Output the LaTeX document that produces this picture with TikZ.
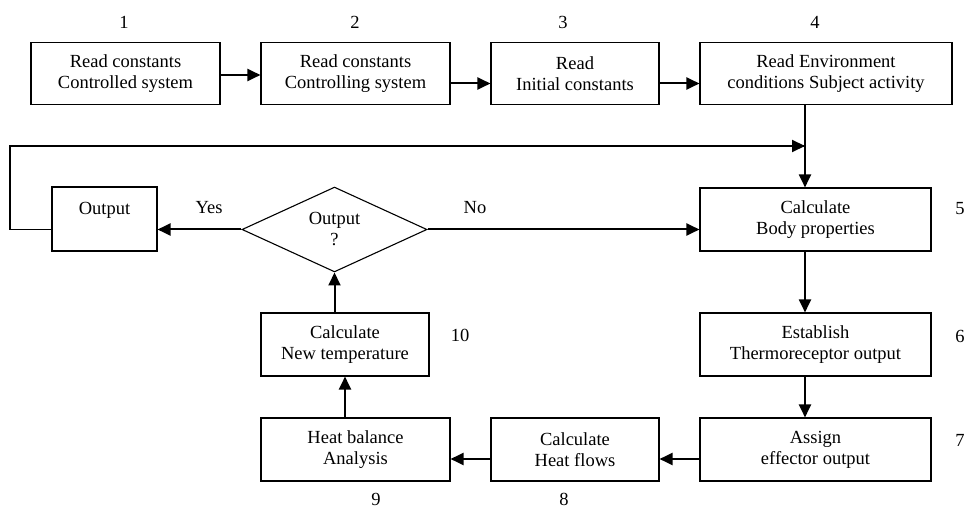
\documentclass[tikz,border=0pt]{standalone}
\usepackage{fontspec}
\setmainfont{Liberation Serif}
\usetikzlibrary{arrows.meta,shapes.geometric}
\begin{document}
\begin{tikzpicture}[x=1pt,y=-1pt,
  box/.style={draw,line width=1.1pt,rectangle,align=center,inner sep=0pt,
    minimum height=62pt,font=\fontsize{18.5}{21}\selectfont},
  lbl/.style={inner sep=0pt,font=\fontsize{18.5}{21}\selectfont},
  arr/.style={line width=2pt,-{Triangle[length=13pt,width=12pt]}},
  ln/.style={line width=1.4pt}]
\useasboundingbox (0,0) rectangle (967,510);
% top row
\node[box,minimum width=189pt] (b1) at (125.5,73.5) {Read constants\\Controlled system};
\node[box,minimum width=189pt] (b2) at (355.5,73.5) {Read constants\\Controlling system};
\node[box,minimum width=168pt] (b3) at (575,73.5) {Read\\Initial constants};
\node[box,minimum width=252pt] (b4) at (826,73.5) {Read Environment\\conditions Subject activity};
% right column
\node[box,minimum width=231pt,minimum height=63pt] (b5) at (815.5,219.5) {Calculate\\Body properties};
\node[box,minimum width=231pt,minimum height=63pt] (b6) at (815.5,344.5) {Establish\\Thermoreceptor output};
\node[box,minimum width=231pt,minimum height=63pt] (b7) at (815.5,449.5) {Assign\\effector output};
% bottom row
\node[box,minimum width=168pt,minimum height=63pt] (b8) at (575,449.5) {Calculate\\Heat flows};
\node[box,minimum width=189pt,minimum height=63pt] (b9) at (355.5,449.5) {Heat balance\\Analysis};
\node[box,minimum width=168pt,minimum height=63pt] (b10) at (345,344.5) {Calculate\\New temperature};
% decision and output
\node[draw,line width=1.1pt,diamond,minimum width=185pt,minimum height=83pt,inner sep=0pt,
  align=center,font=\fontsize{18.5}{21}\selectfont] (dia) at (334.5,229.5) {Output\\?};
\node[box,minimum width=105pt,minimum height=64pt] (out) at (104.5,219) {Output\\\mbox{}};
% numbers
\node[lbl] (n1) at (124,22) {1};
\node[lbl] (n2) at (355,22) {2};
\node[lbl] (n3) at (563,22) {3};
\node[lbl] (n4) at (815,22) {4};
\node[lbl] (n5) at (960,209) {5};
\node[lbl] (n6) at (960,336) {6};
\node[lbl] (n7) at (960,440) {7};
\node[lbl] (n8) at (564,499) {8};
\node[lbl] (n9) at (376,499) {9};
\node[lbl] (n10) at (460,335) {10};
\node[lbl] (yes) at (209,208) {Yes};
\node[lbl] (no) at (475,208) {No};
% helper coordinates
\coordinate (colx) at (805,0);
\coordinate (j) at (805,146);
\coordinate (lft) at (10,0);
% connectors
\draw[arr] ([yshift=-1.5pt]b1.east) -- ([yshift=-1.5pt]b2.west);
\draw[arr] ([yshift=-10pt]b2.east) -- ([yshift=-10pt]b3.west);
\draw[arr] ([yshift=-10pt]b3.east) -- ([yshift=-10pt]b4.west);
\draw[arr] (b4.south -| colx) -- (b5.north -| colx);
\draw[arr] (b5.south -| colx) -- (b6.north -| colx);
\draw[arr] (b6.south -| colx) -- (b7.north -| colx);
\draw[arr] ([yshift=-9.5pt]b7.west) -- ([yshift=-9.5pt]b8.east);
\draw[arr] ([yshift=-9.5pt]b8.west) -- ([yshift=-9.5pt]b9.east);
\draw[arr] (b9.north -| b10.south) -- (b10.south);
\draw[arr] (b10.north -| dia.south) -- (dia.south);
\draw[arr] (dia.west) -- (out.east |- dia.west);
\draw[arr] (dia.east) -- (b5.west |- dia.east);
\draw[ln] (out.west |- dia.west) -- (lft |- dia.west) -- (lft |- j) -- ([xshift=-1pt]j);
\draw[arr] (lft |- j) -- (j);
\end{tikzpicture}
\end{document}
